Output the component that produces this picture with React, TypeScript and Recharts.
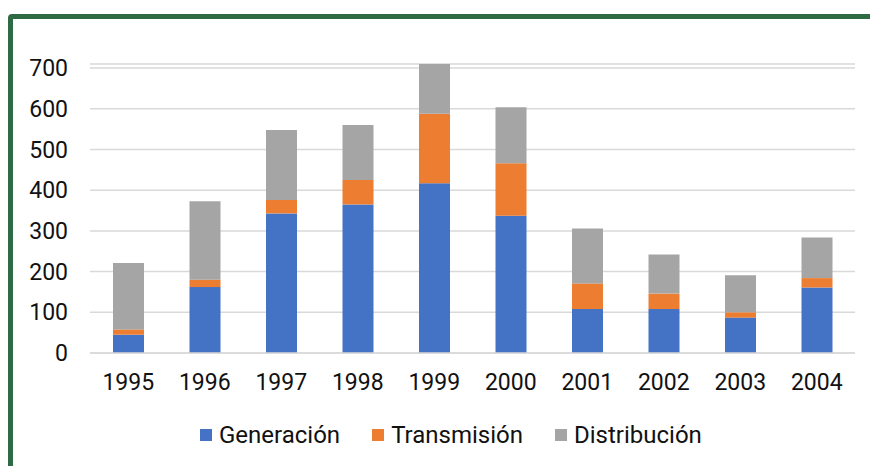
import { Bar, BarChart, CartesianGrid, Legend, XAxis, YAxis } from "recharts";

const years = ["1995", "1996", "1997", "1998", "1999", "2000", "2001", "2002", "2003", "2004"];
const generacion = [45, 162, 343, 365, 417, 337, 108, 108, 87, 161];
const transmision = [13, 18, 33, 60, 171, 129, 63, 38, 13, 23];
const distribucion = [163, 193, 172, 135, 122, 138, 135, 96, 91, 100];
const yTicks = [0, 100, 200, 300, 400, 500, 600, 700];
const seriesOrder = ["Generación", "Transmisión", "Distribución"];

const data = years.map((year, i) => ({
  year,
  Generación: generacion[i],
  Transmisión: transmision[i],
  Distribución: distribucion[i],
}));

const font = "Roboto, 'Noto Sans', sans-serif";

function LegendContent({ payload }: any) {
  const items = [...(payload || [])].sort(
    (a: any, b: any) => seriesOrder.indexOf(a.value) - seriesOrder.indexOf(b.value)
  );
  return (
    <div
      style={{
        display: "flex",
        justifyContent: "flex-start",
        paddingLeft: 200,
        gap: 32,
        fontFamily: font,
        fontSize: 24,
        lineHeight: "28px",
        color: "#111",
      }}
    >
      {items.map((p: any) => (
        <div key={p.value} style={{ display: "flex", alignItems: "center" }}>
          <span style={{ display: "inline-block", width: 12, height: 12, background: p.color, marginRight: 7 }} />
          <span>{p.value}</span>
        </div>
      ))}
    </div>
  );
}

export default function App() {
  return (
    <div style={{ position: "fixed", left: 0, top: 0, width: 870, height: 466, overflow: "hidden", background: "#fff" }}>
      <div
        style={{
          position: "absolute",
          left: 8,
          top: 14,
          width: 900,
          height: 500,
          border: "5px solid #2e6b45",
          borderRadius: 4,
          boxSizing: "border-box",
        }}
      />
      <div style={{ position: "absolute", left: 0, top: 0 }}>
        <BarChart width={870} height={466} data={data} margin={{ top: 64, right: 15, left: 0, bottom: 30 }} barSize={31}>
          <CartesianGrid vertical={false} stroke="#d9d9d9" strokeWidth={1.5} />
          <XAxis
            dataKey="year"
            axisLine={{ stroke: "#d9d9d9", strokeWidth: 1.5 }}
            tickLine={false}
            tickSize={0}
            tickMargin={21}
            height={50}
            tick={{ fill: "#111", fontSize: 23, fontFamily: font }}
          />
          <YAxis
            domain={[0, 700]}
            ticks={yTicks}
            axisLine={false}
            tickLine={false}
            tickSize={0}
            tickMargin={22}
            width={90}
            tick={{ fill: "#111", fontSize: 23, fontFamily: font }}
          />
          <Legend
            verticalAlign="bottom"
            height={33}
            wrapperStyle={{ position: "absolute", top: 421, left: 0, width: 870, bottom: "auto" }}
            content={<LegendContent />}
          />
          <Bar dataKey="Generación" stackId="a" fill="#4472C4" isAnimationActive={false} />
          <Bar dataKey="Transmisión" stackId="a" fill="#ED7D31" isAnimationActive={false} />
          <Bar dataKey="Distribución" stackId="a" fill="#A5A5A5" isAnimationActive={false} />
        </BarChart>
      </div>
    </div>
  );
}
